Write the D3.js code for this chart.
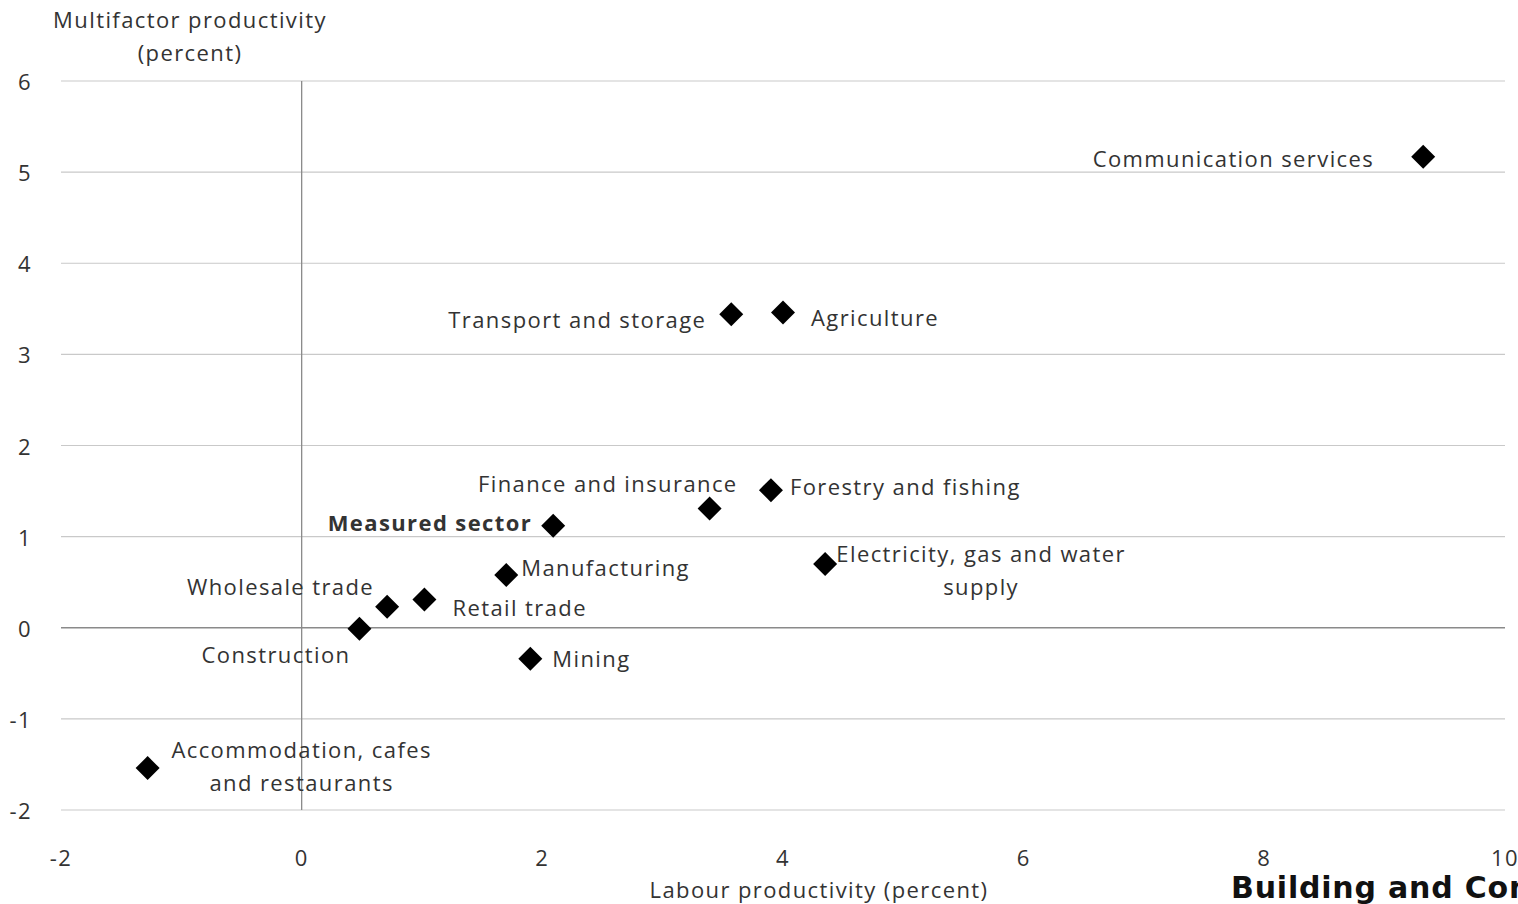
<!DOCTYPE html>
<html>
<head>
<meta charset="utf-8">
<script src="https://cdn.jsdelivr.net/npm/d3@7"></script>
<style>
  html, body { margin: 0; padding: 0; background: #fff; }
  svg { display: block; }
  text { font-family: "Open Sans", Lato, sans-serif; fill: #333; letter-spacing: 1.4px; }
</style>
</head>
<body>
<svg id="chart" width="1518" height="904"></svg>
<script>
// Industry productivity growth: labour vs multifactor (percent)
const industries = [
  "Communication services", "Transport and storage", "Agriculture",
  "Forestry and fishing", "Finance and insurance", "Measured sector",
  "Electricity, gas and water supply", "Manufacturing", "Retail trade",
  "Wholesale trade", "Construction", "Mining",
  "Accommodation, cafes and restaurants"
];
const labourProductivity = [9.32, 3.57, 4.0, 3.90, 3.39, 2.09, 4.35, 1.70, 1.02, 0.71, 0.48, 1.90, -1.28];
const multifactorProductivity = [5.17, 3.44, 3.46, 1.51, 1.31, 1.12, 0.70, 0.58, 0.31, 0.23, -0.01, -0.34, -1.54];

const xTicks = [-2, 0, 2, 4, 6, 8, 10];
const yTicks = [-2, -1, 0, 1, 2, 3, 4, 5, 6];

// Label placement relative to each marker: [dx, dy of first line, anchor, lines]
const labelLayout = {
  "Communication services": { dx: -49, dy: 1, anchor: "end", lines: ["Communication services"] },
  "Transport and storage": { dx: -25, dy: 5, anchor: "end", lines: ["Transport and storage"] },
  "Agriculture": { dx: 28, dy: 5, anchor: "start", lines: ["Agriculture"] },
  "Forestry and fishing": { dx: 19, dy: -4, anchor: "start", lines: ["Forestry and fishing"] },
  "Finance and insurance": { dx: 28, dy: -25, anchor: "end", lines: ["Finance and insurance"] },
  "Measured sector": { dx: -21, dy: -4, anchor: "end", lines: ["Measured sector"], bold: true },
  "Electricity, gas and water supply": { dx: 156, dy: -11, anchor: "middle", lines: ["Electricity, gas and water", "supply"] },
  "Manufacturing": { dx: 15, dy: -8, anchor: "start", lines: ["Manufacturing"] },
  "Retail trade": { dx: 28, dy: 7, anchor: "start", lines: ["Retail trade"] },
  "Wholesale trade": { dx: -13, dy: -21, anchor: "end", lines: ["Wholesale trade"] },
  "Construction": { dx: -9, dy: 25, anchor: "end", lines: ["Construction"] },
  "Mining": { dx: 22, dy: -1, anchor: "start", lines: ["Mining"] },
  "Accommodation, cafes and restaurants": { dx: 154, dy: -19, anchor: "middle", lines: ["Accommodation, cafes", "and restaurants"] }
};

const svg = d3.select("#chart");
const plot = { left: 61, right: 1505, top: 81, bottom: 810 };
const fontSize = 22;

const x = d3.scaleLinear().domain([-2, 10]).range([plot.left, plot.right]);
const y = d3.scaleLinear().domain([-2, 6]).range([plot.bottom, plot.top]);

// Horizontal gridlines
svg.append("g")
  .selectAll("line")
  .data(yTicks.filter(d => d !== 0))
  .join("line")
  .attr("x1", plot.left).attr("x2", plot.right)
  .attr("y1", d => y(d)).attr("y2", d => y(d))
  .attr("stroke", "#c9c9c9").attr("stroke-width", 1.2);

// Zero axes
svg.append("line")
  .attr("x1", plot.left).attr("x2", plot.right)
  .attr("y1", y(0)).attr("y2", y(0))
  .attr("stroke", "#8a8a8a").attr("stroke-width", 1.3);
svg.append("line")
  .attr("x1", x(0)).attr("x2", x(0))
  .attr("y1", plot.top).attr("y2", plot.bottom)
  .attr("stroke", "#8a8a8a").attr("stroke-width", 1.3);

// Y tick labels
svg.append("g")
  .selectAll("text")
  .data(yTicks)
  .join("text")
  .attr("x", 32).attr("y", d => y(d))
  .attr("text-anchor", "end")
  .attr("dominant-baseline", "central")
  .attr("font-size", fontSize)
  .text(d => d);

// X tick labels
svg.append("g")
  .selectAll("text")
  .data(xTicks)
  .join("text")
  .attr("x", d => x(d)).attr("y", 857)
  .attr("text-anchor", "middle")
  .attr("dominant-baseline", "central")
  .attr("font-size", fontSize)
  .text(d => d);

// Axis titles
svg.append("text").attr("x", 190).attr("y", 19)
  .attr("text-anchor", "middle").attr("dominant-baseline", "central")
  .attr("font-size", fontSize).text("Multifactor productivity");
svg.append("text").attr("x", 190).attr("y", 52)
  .attr("text-anchor", "middle").attr("dominant-baseline", "central")
  .attr("font-size", fontSize).text("(percent)");
svg.append("text").attr("x", 819).attr("y", 889)
  .attr("text-anchor", "middle").attr("dominant-baseline", "central")
  .attr("font-size", fontSize).text("Labour productivity (percent)");

// Data points
const points = industries.map((name, i) => ({
  name, lx: labourProductivity[i], mf: multifactorProductivity[i]
}));

const r = 12;
const diamond = `M0,${-r}L${r},0L0,${r}L${-r},0Z`;

svg.append("g")
  .selectAll("path")
  .data(points)
  .join("path")
  .attr("d", diamond)
  .attr("transform", d => `translate(${x(d.lx)},${y(d.mf)})`)
  .attr("fill", "#000");

// Point labels
const labels = svg.append("g")
  .selectAll("text")
  .data(points)
  .join("text")
  .attr("text-anchor", d => labelLayout[d.name].anchor)
  .attr("font-size", fontSize)
  .attr("font-weight", d => labelLayout[d.name].bold ? "bold" : "normal");

labels.each(function (d) {
  const L = labelLayout[d.name];
  const px = x(d.lx) + L.dx;
  const py = y(d.mf) + L.dy;
  d3.select(this).selectAll("tspan")
    .data(L.lines)
    .join("tspan")
    .attr("x", px)
    .attr("y", (t, i) => py + i * 33)
    .attr("dominant-baseline", "central")
    .text(t => t);
});

// Partially visible caption at bottom right
svg.append("text")
  .attr("x", 1231).attr("y", 887)
  .attr("dominant-baseline", "central")
  .style("font-family", "'DejaVu Sans', 'Liberation Sans', sans-serif")
  .style("font-weight", "bold")
  .style("font-size", "30px")
  .style("letter-spacing", "0.8px")
  .style("fill", "#111")
  .text("Building and Construction");
</script>
</body>
</html>
